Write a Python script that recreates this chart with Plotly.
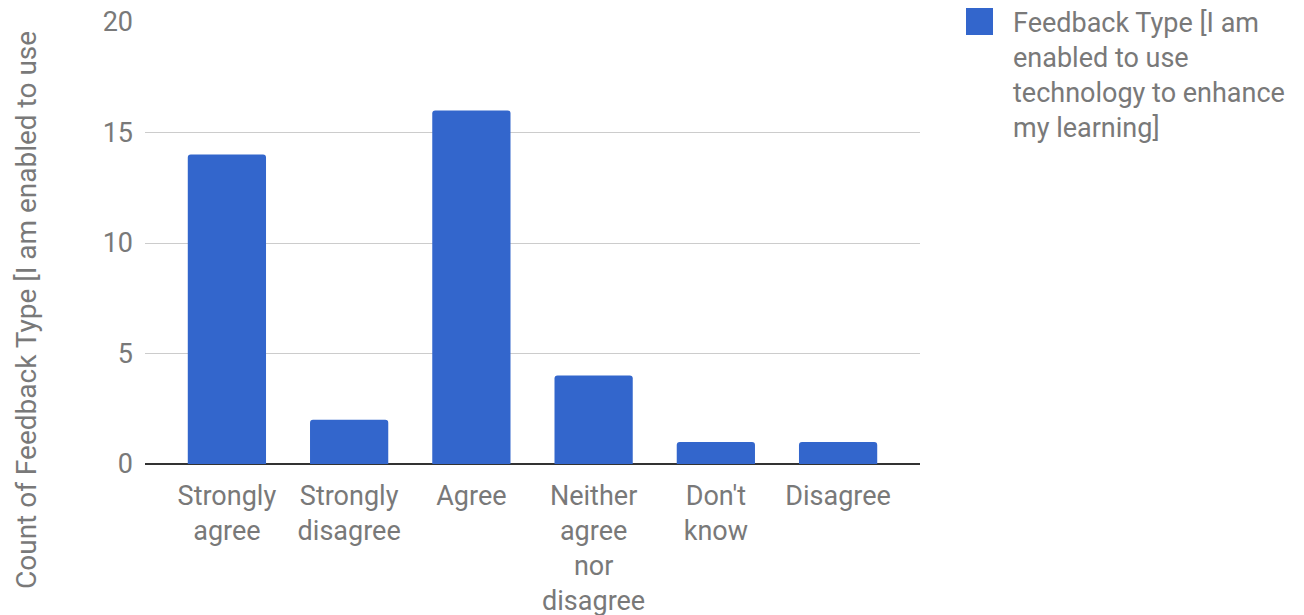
import plotly.graph_objects as go

# Survey responses and their counts
categories = ["Strongly agree", "Strongly disagree", "Agree",
              "Neither agree nor disagree", "Don't know", "Disagree"]
tick_labels = ["Strongly<br>agree", "Strongly<br>disagree", "Agree",
               "Neither<br>agree<br>nor<br>disagree", "Don't<br>know", "Disagree"]
counts = [14, 2, 16, 4, 1, 1]
y_ticks = [0, 5, 10, 15, 20]

series_name = "Feedback Type [I am enabled to use technology to enhance my learning]"
legend_lines = ["Feedback Type [I am", "enabled to use",
                "technology to enhance", "my learning]"]
axis_title = "Count of Feedback Type [I am enabled to use"

BAR = "#3366CC"
TEXT = "#797979"
FONT = "Roboto"
FS = 27

W, H = 1304, 615
L, R, T, B = 145, 384, 22, 151
pw, ph = W - L - R, H - T - B

fig = go.Figure(go.Bar(
    x=categories, y=counts, name=series_name,
    marker=dict(color=BAR, cornerradius=3, line=dict(width=0)),
    width=0.64, showlegend=False,
))

fig.update_layout(
    width=W, height=H,
    margin=dict(l=L, r=R, t=T, b=B, autoexpand=False),
    paper_bgcolor="white", plot_bgcolor="white",
    font=dict(family=FONT, size=FS, color=TEXT),
    xaxis=dict(
        range=[-0.67, 5.67], tickmode="array", tickvals=categories,
        ticktext=tick_labels, showgrid=False, showline=False, ticks="",
        ticklabelstandoff=13, zeroline=False, automargin=False,
    ),
    yaxis=dict(
        range=[0, 20], tickvals=y_ticks, showgrid=True, gridcolor="#cccccc",
        gridwidth=1, zeroline=True, zerolinecolor="#333333", zerolinewidth=2,
        showline=False, ticks="", ticklabelstandoff=11, automargin=False,
    ),
)

# Legend swatch and wrapped series label
sx0 = (966 - L) / pw
sx1 = (993 - L) / pw
sy0 = (H - B - 35) / ph
sy1 = (H - B - 8) / ph
fig.add_shape(type="rect", xref="paper", yref="paper",
              x0=sx0, x1=sx1, y0=sy0, y1=sy1,
              fillcolor=BAR, line=dict(width=0), layer="above")
fig.add_annotation(
    xref="paper", yref="paper", x=(1011 - L) / pw, y=(H - B - 5) / ph,
    xanchor="left", yanchor="top", align="left", showarrow=False,
    text="<br>".join(legend_lines), font=dict(family=FONT, size=FS, color=TEXT),
)

# Vertical axis title
fig.add_annotation(
    xref="paper", yref="paper", x=(26 - L) / pw, y=(H - B - 310) / ph,
    xanchor="center", yanchor="middle", textangle=-90, showarrow=False,
    text=axis_title, font=dict(family=FONT, size=28, color=TEXT),
)

fig.write_html("out.html")
